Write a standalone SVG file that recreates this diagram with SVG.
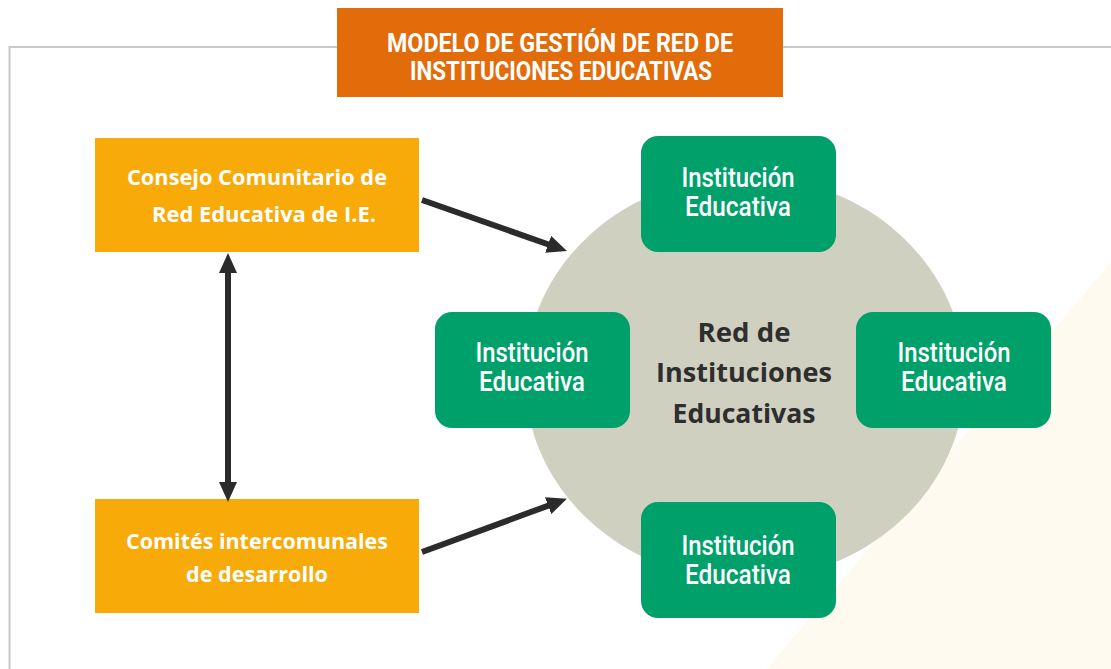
<svg xmlns="http://www.w3.org/2000/svg" width="1111" height="669" viewBox="0 0 1111 669">
<defs>
<style>
.frame{fill:none;stroke:#c9c9c9;stroke-width:2}
.title{fill:#e26b0a}
.ttl{font-family:Roboto,"Liberation Sans",sans-serif;font-weight:700;font-size:25px;fill:#fff;text-anchor:middle}
.obox{fill:#f7aa08}
.otxt{font-family:"Open Sans","Liberation Sans",sans-serif;font-weight:700;font-size:22px;fill:#fff;text-anchor:middle}
.gbox{fill:#00a06a}
.gtxt{font-family:Roboto,"Liberation Sans",sans-serif;font-weight:500;font-size:27px;fill:#fff;text-anchor:middle}
.ctxt{font-family:"Open Sans","Liberation Sans",sans-serif;font-weight:700;font-size:27px;fill:#2e2e2e;text-anchor:middle}
.conn{stroke:#2b2b2b;stroke-width:6;fill:none}
</style>
<marker id="ah" viewBox="0 0 20 18" refX="2" refY="9" markerWidth="20" markerHeight="18" markerUnits="userSpaceOnUse" orient="auto-start-reverse">
<path d="M0,0 L20,9 L0,18 z" fill="#2b2b2b"/>
</marker>
</defs>
<rect width="1111" height="669" fill="#ffffff"/>
<polygon points="767,669 1111,262 1111,669" fill="#fefaef"/>
<path class="frame" d="M9.5,669 V47 H1111"/>
<g id="title">
<rect class="title" x="337" y="8" width="446" height="89"/>
<text class="ttl" x="560" y="52" textLength="346" lengthAdjust="spacingAndGlyphs">MODELO DE GESTIÓN DE RED DE</text>
<text class="ttl" x="561" y="80" textLength="302" lengthAdjust="spacingAndGlyphs">INSTITUCIONES EDUCATIVAS</text>
</g>
<g id="red">
<ellipse cx="745" cy="378" rx="220" ry="202" fill="#cfd0c0"/>
<text class="ctxt" x="744" y="342" textLength="93" lengthAdjust="spacingAndGlyphs">Red de</text>
<text class="ctxt" x="744" y="382" textLength="176" lengthAdjust="spacingAndGlyphs">Instituciones</text>
<text class="ctxt" x="744" y="423" textLength="143" lengthAdjust="spacingAndGlyphs">Educativas</text>
</g>
<g id="consejo">
<rect class="obox" x="95" y="138" width="324" height="114"/>
<text class="otxt" x="257" y="185" textLength="260" lengthAdjust="spacingAndGlyphs">Consejo Comunitario de</text>
<text class="otxt" x="264" y="222" textLength="224" lengthAdjust="spacingAndGlyphs">Red Educativa de I.E.</text>
</g>
<g id="comites">
<rect class="obox" x="95" y="499" width="324" height="114"/>
<text class="otxt" x="257" y="549" textLength="262" lengthAdjust="spacingAndGlyphs">Comités intercomunales</text>
<text class="otxt" x="257" y="582" textLength="142" lengthAdjust="spacingAndGlyphs">de desarrollo</text>
</g>
<g id="ie-top">
<rect class="gbox" x="641" y="136" width="195" height="116" rx="17"/>
<text class="gtxt" x="738" y="187" textLength="113" lengthAdjust="spacingAndGlyphs">Institución</text>
<text class="gtxt" x="738" y="216" textLength="106" lengthAdjust="spacingAndGlyphs">Educativa</text>
</g>
<g id="ie-left">
<rect class="gbox" x="435" y="312" width="195" height="116" rx="17"/>
<text class="gtxt" x="532" y="362" textLength="113" lengthAdjust="spacingAndGlyphs">Institución</text>
<text class="gtxt" x="532" y="391" textLength="106" lengthAdjust="spacingAndGlyphs">Educativa</text>
</g>
<g id="ie-right">
<rect class="gbox" x="856" y="312" width="195" height="116" rx="17"/>
<text class="gtxt" x="954" y="362" textLength="113" lengthAdjust="spacingAndGlyphs">Institución</text>
<text class="gtxt" x="954" y="391" textLength="106" lengthAdjust="spacingAndGlyphs">Educativa</text>
</g>
<g id="ie-bottom">
<rect class="gbox" x="641" y="502" width="195" height="116" rx="17"/>
<text class="gtxt" x="738" y="555" textLength="113" lengthAdjust="spacingAndGlyphs">Institución</text>
<text class="gtxt" x="738" y="584" textLength="106" lengthAdjust="spacingAndGlyphs">Educativa</text>
</g>
<g id="connectors">
<line class="conn" x1="422" y1="200" x2="550" y2="245" marker-end="url(#ah)"/>
<line class="conn" x1="422" y1="552" x2="550" y2="505" marker-end="url(#ah)"/>
<line class="conn" x1="228" y1="271" x2="228" y2="484" marker-start="url(#ah)" marker-end="url(#ah)"/>
</g>
</svg>
